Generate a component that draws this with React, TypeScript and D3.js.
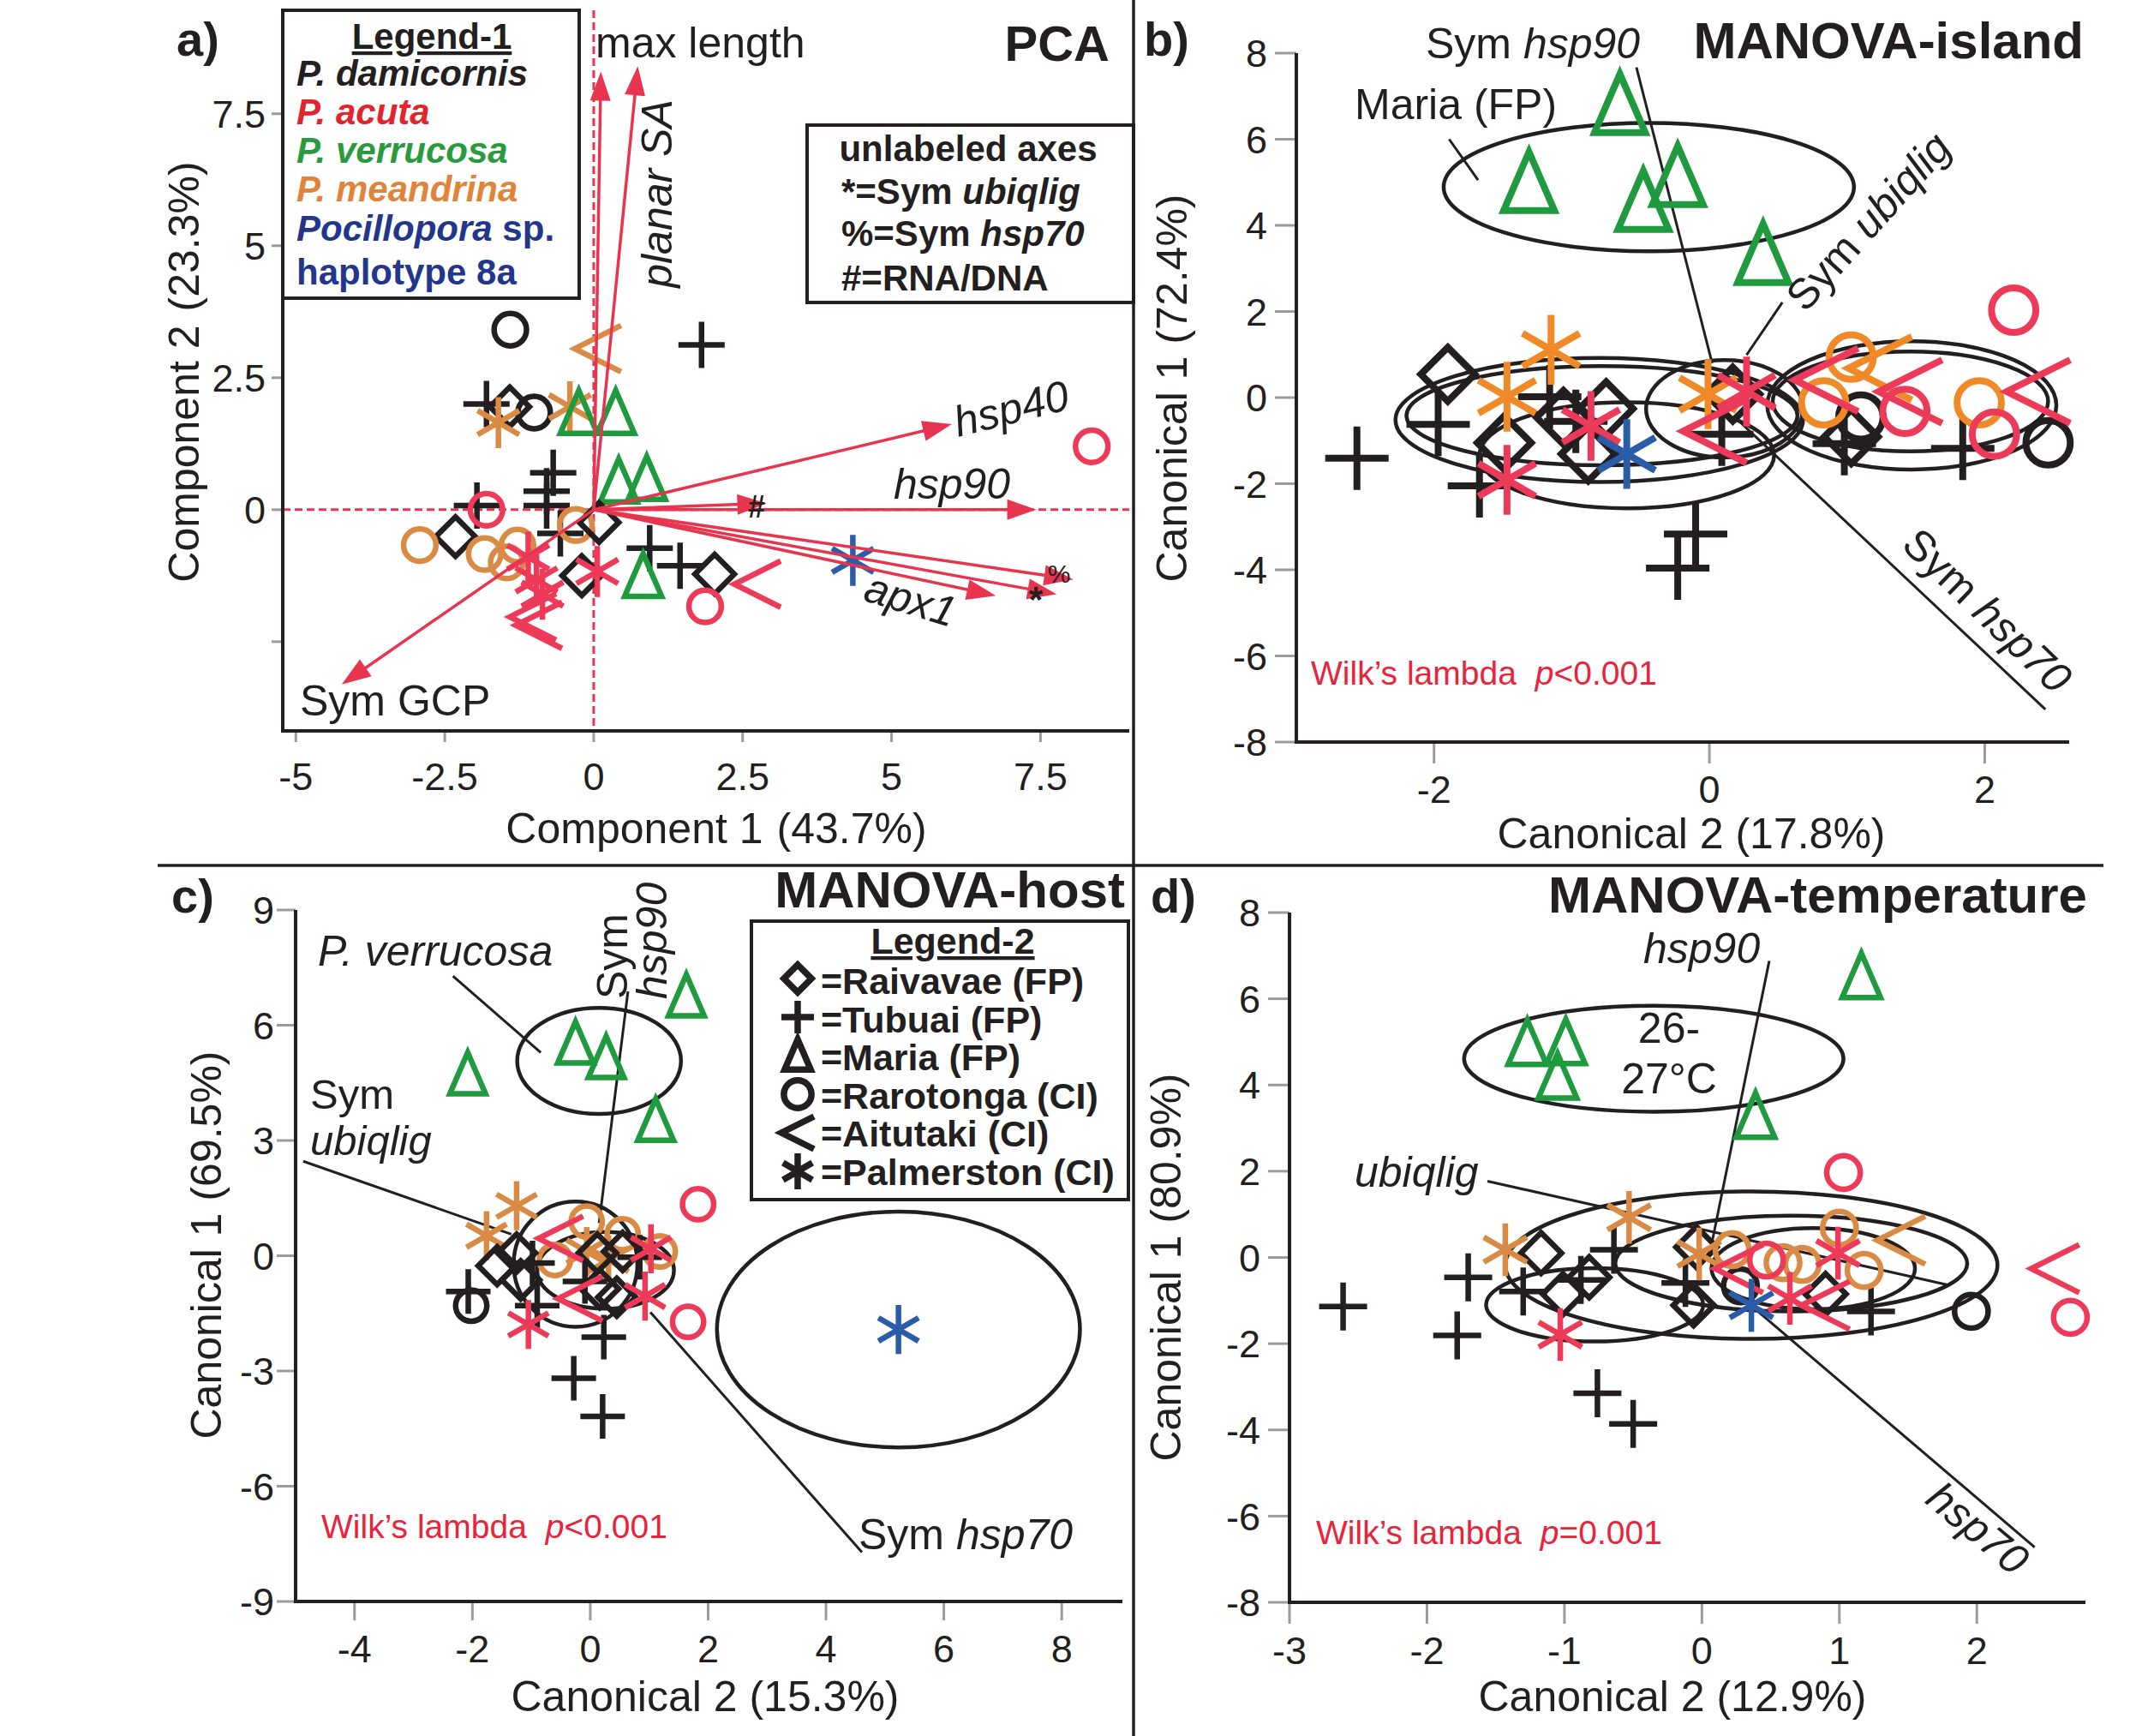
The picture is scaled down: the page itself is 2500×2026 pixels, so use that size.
import React from 'react';
import * as d3 from 'd3';

const FONT = '"Liberation Sans", Arial, Helvetica, sans-serif';
const INK = '#231f20';
const RED_TXT = '#e8243c';
const ARROW = '#e8354f';

const speciesColor: Record<string, string> = {
  dam: '#231f20',
  acu: '#ec3a58',
  ver: '#1f9a3e',
  mea: '#d98b45',
  poc: '#2b5ca8',
};
const islandOrange = '#f08a28';

// [species, island shape, x, y]
type Pt = [string, string, number, number];

// ---- panel a: PCA ----
const pcaXTicks = [-5, -2.5, 0, 2.5, 5, 7.5];
const pcaYTicks = [-2.5, 0, 2.5, 5, 7.5];
const pcaPoints: Pt[] = [
  ['dam', 'circ', -1.4, 3.41], ['dam', 'plus', 1.81, 3.12], ['mea', 'lt', 0.07, 3.05],
  ['dam', 'plus', -1.8, 2.0], ['dam', 'dia', -1.41, 1.95], ['dam', 'circ', -1.0, 1.84],
  ['mea', 'ast', -0.4, 1.95], ['mea', 'ast', -1.6, 1.65],
  ['ver', 'tri', -0.25, 1.82], ['ver', 'tri', 0.37, 1.82], ['ver', 'tri', 0.42, 0.52], ['ver', 'tri', 0.89, 0.57],
  ['dam', 'plus', -0.68, 0.7], ['dam', 'plus', -0.79, 0.35], ['dam', 'plus', -0.79, 0.08], ['dam', 'plus', -0.56, -0.45],
  ['dam', 'plus', -1.96, 0.08], ['acu', 'circ', -1.8, 0.0], ['dam', 'dia', -2.32, -0.51],
  ['mea', 'circ', -2.92, -0.67], ['mea', 'circ', -1.83, -0.84], ['mea', 'circ', -1.46, -1.0],
  ['mea', 'circ', -1.28, -0.68], ['mea', 'circ', -0.3, -0.29],
  ['dam', 'dia', 0.09, -0.24], ['dam', 'dia', -0.2, -1.25],
  ['acu', 'ast', 0.06, -1.17], ['acu', 'ast', -0.96, -1.33], ['acu', 'ast', -0.86, -1.6], ['acu', 'ast', -1.1, -0.9],
  ['acu', 'lt', -1.02, -2.03], ['acu', 'lt', -0.92, -2.19],
  ['dam', 'plus', 0.94, -0.73], ['dam', 'plus', 1.45, -1.06], ['ver', 'tri', 0.83, -1.27],
  ['dam', 'dia', 2.03, -1.22], ['acu', 'circ', 1.87, -1.83], ['acu', 'lt', 2.75, -1.41],
  ['poc', 'ast', 4.35, -0.96], ['acu', 'circ', 8.36, 1.2],
];
// [variable, x tip, y tip]
const pcaArrows: [string, number, number][] = [
  ['max length', 0.12, 8.3], ['planar SA', 0.74, 8.4], ['hsp40', 6.01, 1.62], ['hsp90', 7.43, 0],
  ['RNA/DNA', 2.9, 0.12], ['Sym hsp70', 8.05, -1.32], ['Sym ubiqlig', 7.77, -1.6],
  ['apx1', 6.75, -1.63], ['Sym GCP', -4.23, -3.31],
];

// ---- panel b: MANOVA-island ----
const islandXTicks = [-2, 0, 2];
const islandYTicks = [-8, -6, -4, -2, 0, 2, 4, 6, 8];
const islandPoints: Pt[] = [
  ['ver', 'tri', -0.65, 6.78], ['ver', 'tri', -1.31, 4.97], ['ver', 'tri', -0.48, 4.53], ['ver', 'tri', -0.23, 5.11], ['ver', 'tri', 0.39, 3.3],
  ['dam', 'plus', -2.56, -1.41], ['dam', 'plus', -1.97, -0.62], ['dam', 'plus', -1.67, -2.05], ['dam', 'plus', -1.16, 0.02],
  ['dam', 'plus', -0.97, -0.55], ['dam', 'plus', -0.1, -3.17], ['dam', 'plus', -0.23, -3.96], ['dam', 'plus', 0.09, -0.85],
  ['dam', 'plus', 0.98, -1.07], ['dam', 'plus', 1.84, -1.18],
  ['dam', 'dia', -1.9, 0.54], ['dam', 'dia', -1.49, -1.05], ['dam', 'dia', -1.06, -0.46], ['dam', 'dia', -0.88, -1.31],
  ['dam', 'dia', -0.75, -0.26], ['dam', 'dia', 0.17, 0.08], ['dam', 'dia', 1.03, -0.91],
  ['dam', 'circ', 1.1, -0.45], ['dam', 'circ', 2.46, -1.05],
  ['mea', 'ast', -1.47, 0.02], ['mea', 'ast', -1.15, 1.11], ['mea', 'ast', -0.01, 0.08],
  ['mea', 'circ', 0.83, -0.12], ['mea', 'circ', 1.03, 0.94], ['mea', 'circ', 1.96, -0.12], ['mea', 'lt', 1.24, 0.68],
  ['acu', 'circ', 2.21, 2.03], ['acu', 'circ', 1.42, -0.32], ['acu', 'circ', 2.07, -0.85],
  ['acu', 'lt', 0.04, -0.78], ['acu', 'lt', 0.85, 0.41], ['acu', 'lt', 1.46, 0.14], ['acu', 'lt', 2.39, 0.14],
  ['acu', 'ast', -1.47, -1.91], ['acu', 'ast', -0.86, -0.66], ['acu', 'ast', 0.27, 0.14],
  ['poc', 'ast', -0.6, -1.31],
];
// [cx, cy, rx, ry] in data units
const islandEllipses = [
  [-0.44, 4.89, 1.49, 1.49], [-0.8, -0.52, 1.48, 1.44], [-0.78, -0.42, 1.42, 1.15], [-0.6, -1.34, 1.07, 1.23],
  [0.11, -0.26, 0.57, 1.13], [1.47, -0.18, 1.05, 1.49], [1.46, -0.09, 1.0, 1.16],
];
const islandLines = [
  [-0.53, 7.67, 0.02, 0.8], [0.27, 0.99, 0.53, 2.21], [0.2, -0.5, 2.44, -7.24], [-1.89, 6.0, -1.68, 5.05],
];

// ---- panel c: MANOVA-host ----
const hostXTicks = [-4, -2, 0, 2, 4, 6, 8];
const hostYTicks = [-9, -6, -3, 0, 3, 6, 9];
const hostPoints: Pt[] = [
  ['ver', 'tri', -2.08, 4.71], ['ver', 'tri', -0.25, 5.51], ['ver', 'tri', 0.27, 5.13], ['ver', 'tri', 1.63, 6.74], ['ver', 'tri', 1.11, 3.5],
  ['mea', 'ast', -1.25, 1.3], ['mea', 'ast', -1.76, 0.52], ['mea', 'ast', -0.06, 0.11], ['mea', 'ast', 0.31, -0.11],
  ['mea', 'circ', -0.6, -0.11], ['mea', 'circ', -0.06, 0.89], ['mea', 'circ', 0.55, 0.56], ['mea', 'circ', 1.18, 0.11],
  ['dam', 'plus', -2.07, -0.93], ['dam', 'plus', -0.98, -0.19], ['dam', 'plus', -0.9, -1.3], ['dam', 'plus', -0.09, -0.67],
  ['dam', 'plus', 0.84, -0.04], ['dam', 'plus', 0.23, -2.12], ['dam', 'plus', -0.28, -3.19], ['dam', 'plus', 0.21, -4.18],
  ['dam', 'circ', -2.02, -1.3],
  ['dam', 'dia', -1.58, -0.26], ['dam', 'dia', -1.25, 0.07], ['dam', 'dia', -1.18, -0.63], ['dam', 'dia', 0.12, 0.07],
  ['dam', 'dia', 0.55, 0.11], ['dam', 'dia', 0.45, -1.08], ['dam', 'dia', 0.16, -0.86],
  ['acu', 'ast', -1.05, -1.79], ['acu', 'ast', 1.03, 0.18], ['acu', 'ast', 0.93, -1.05],
  ['acu', 'lt', -0.5, 0.45], ['acu', 'lt', -0.17, -1.12],
  ['acu', 'circ', 1.83, 1.34], ['acu', 'circ', 1.66, -1.72],
  ['poc', 'ast', 5.23, -1.92],
];
const hostEllipses = [
  [0.15, 5.07, 1.39, 1.38], [5.23, -1.92, 3.08, 3.07], [-0.25, -0.22, 1.05, 1.63], [0.26, -0.38, 1.16, 1.0],
];
const hostLines = [
  [-2.33, 7.28, -0.84, 5.29], [0.64, 6.88, 0.15, 0.85], [-4.87, 2.46, -1.34, 0.56], [1.02, -1.47, 4.61, -7.72],
];

// ---- panel d: MANOVA-temperature ----
const tempXTicks = [-3, -2, -1, 0, 1, 2];
const tempYTicks = [-8, -6, -4, -2, 0, 2, 4, 6, 8];
const tempPoints: Pt[] = [
  ['ver', 'tri', -1.27, 4.95], ['ver', 'tri', -0.99, 4.97], ['ver', 'tri', -1.05, 4.17], ['ver', 'tri', 0.39, 3.26], ['ver', 'tri', 1.16, 6.5],
  ['dam', 'plus', -2.61, -1.14], ['dam', 'plus', -1.7, -0.46], ['dam', 'plus', -1.78, -1.81], ['dam', 'plus', -1.3, -0.79],
  ['dam', 'plus', -0.88, -0.52], ['dam', 'plus', -0.64, 0.18], ['dam', 'plus', -0.12, -0.59], ['dam', 'plus', -0.76, -3.15],
  ['dam', 'plus', -0.5, -3.86], ['dam', 'plus', 1.23, -1.25],
  ['dam', 'dia', -1.17, 0.1], ['dam', 'dia', -1.01, -0.85], ['dam', 'dia', -0.82, -0.46], ['dam', 'dia', -0.06, -1.11],
  ['dam', 'dia', -0.04, 0.24], ['dam', 'dia', 0.9, -0.85],
  ['dam', 'circ', 0.28, -0.66], ['dam', 'circ', 1.96, -1.25],
  ['mea', 'ast', -1.43, 0.18], ['mea', 'ast', -0.53, 0.93], ['mea', 'ast', -0.02, 0.08],
  ['mea', 'circ', 0.22, 0.18], ['mea', 'circ', 0.59, -0.12], ['mea', 'circ', 0.73, -0.16], ['mea', 'circ', 1.0, 0.68],
  ['mea', 'circ', 1.18, -0.3], ['mea', 'lt', 1.45, 0.4],
  ['acu', 'ast', -1.03, -1.79], ['acu', 'ast', 0.64, -0.95], ['acu', 'ast', 0.99, 0.1],
  ['acu', 'lt', 0.27, -0.26], ['acu', 'lt', 0.9, -1.11], ['acu', 'lt', 2.57, -0.26],
  ['acu', 'circ', 0.47, -0.06], ['acu', 'circ', 1.03, 1.97], ['acu', 'circ', 2.68, -1.39],
  ['poc', 'ast', 0.36, -1.11],
];
const tempEllipses = [
  [-0.35, 4.61, 1.38, 1.23], [0.36, -0.18, 1.79, 1.71], [-0.78, -1.1, 0.79, 0.85], [0.65, -0.14, 1.28, 1.11], [0.81, -0.26, 0.74, 0.94],
];
const tempLines = [
  [0.49, 6.88, 0.06, 0.14], [-1.56, 1.77, 1.78, -0.63], [0.37, -1.15, 2.42, -6.72],
];

// ---- legends ----
const legend1 = [
  { key: 'dam', label: 'P. damicornis', color: INK },
  { key: 'acu', label: 'P. acuta', color: '#e0252d' },
  { key: 'ver', label: 'P. verrucosa', color: '#2a9a3e' },
  { key: 'mea', label: 'P. meandrina', color: '#e0843a' },
];
const legend2 = [
  ['dia', '=Raivavae (FP)'], ['plus', '=Tubuai (FP)'], ['tri', '=Maria (FP)'],
  ['circ', '=Rarotonga (CI)'], ['lt', '=Aitutaki (CI)'], ['ast', '=Palmerston (CI)'],
];

type Scale = d3.ScaleLinear<number, number>;

function Marker({ shape, x, y, r, color, sw, round = 0.7 }: {
  shape: string; x: number; y: number; r: number; color: string; sw: number; round?: number;
}) {
  const p = { fill: 'none', stroke: color, strokeWidth: sw, strokeLinejoin: 'miter' as const, strokeMiterlimit: 6 };
  if (shape === 'plus') return <path d={`M${x - r},${y}H${x + r}M${x},${y - r}V${y + r}`} {...p} />;
  if (shape === 'circ') return <circle cx={x} cy={y} r={r * round} {...p} />;
  if (shape === 'dia') {
    const d = r * 0.85;
    return <path d={`M${x},${y - d}L${x + d},${y}L${x},${y + d}L${x - d},${y}Z`} {...p} />;
  }
  if (shape === 'tri')
    return <path d={`M${x},${y - r}L${x + 0.8 * r},${y + 0.85 * r}L${x - 0.8 * r},${y + 0.85 * r}Z`} {...p} />;
  if (shape === 'lt') return <path d={`M${x + r},${y - r}L${x - r},${y}L${x + r},${y + r}`} {...p} />;
  const a = r * 0.9, b = r * 0.52, v = r * 1.1;
  return <path d={`M${x},${y - v}V${y + v}M${x - a},${y - b}L${x + a},${y + b}M${x - a},${y + b}L${x + a},${y - b}`} {...p} />;
}

function Axes({ x, y, xTicks, yTicks, yLabelX, xLabelY, tick, skip = [] }: {
  x: Scale; y: Scale; xTicks: number[]; yTicks: number[]; yLabelX: number; xLabelY: number; tick: number; skip?: number[];
}) {
  const [x0, x1] = x.range();
  const [y0, y1] = y.range();
  return (
    <g>
      {yTicks.map((v) => (
        <g key={'y' + v}>
          <line x1={x0 - tick} x2={x0} y1={y(v)} y2={y(v)} stroke="#9b9b9b" strokeWidth={3} />
          {!skip.includes(v) && (
            <text x={yLabelX} y={y(v)} dy="0.36em" textAnchor="end" fontSize={45}>{v}</text>
          )}
        </g>
      ))}
      {xTicks.map((v) => (
        <g key={'x' + v}>
          <line x1={x(v)} x2={x(v)} y1={y0} y2={y0 + tick} stroke="#9b9b9b" strokeWidth={3} />
          <text x={x(v)} y={xLabelY} textAnchor="middle" fontSize={45}>{v}</text>
        </g>
      ))}
      <line x1={x0} x2={x0} y1={y1} y2={y0} stroke={INK} strokeWidth={4} />
      <line x1={x0 - 2} x2={x1} y1={y0} y2={y0} stroke={INK} strokeWidth={4} />
    </g>
  );
}

function Points({ pts, x, y, r, sw, orange }: { pts: Pt[]; x: Scale; y: Scale; r: number; sw: number; orange?: string }) {
  return (
    <g>
      {pts.map(([sp, shape, vx, vy], i) => (
        <Marker key={i} shape={shape} x={x(vx)} y={y(vy)} r={r} sw={sw}
          color={sp === 'mea' && orange ? orange : speciesColor[sp]} />
      ))}
    </g>
  );
}

function Ellipses({ list, x, y }: { list: number[][]; x: Scale; y: Scale }) {
  return (
    <g>
      {list.map(([cx, cy, rx, ry], i) => (
        <ellipse key={i} cx={x(cx)} cy={y(cy)} rx={x(cx + rx) - x(cx)} ry={y(cy - ry) - y(cy)}
          fill="none" stroke={INK} strokeWidth={4.5} />
      ))}
    </g>
  );
}

function Lines({ list, x, y }: { list: number[][]; x: Scale; y: Scale }) {
  return (
    <g>
      {list.map(([a, b, c, d], i) => (
        <line key={i} x1={x(a)} y1={y(b)} x2={x(c)} y2={y(d)} stroke={INK} strokeWidth={3} />
      ))}
    </g>
  );
}

function Arrow({ x1, y1, x2, y2 }: { x1: number; y1: number; x2: number; y2: number }) {
  const ang = Math.atan2(y2 - y1, x2 - x1);
  const L = 34, W = 12;
  const ux = Math.cos(ang), uy = Math.sin(ang);
  const bx = x2 - L * ux, by = y2 - L * uy;
  return (
    <g>
      <line x1={x1} y1={y1} x2={x2 - L * 0.7 * ux} y2={y2 - L * 0.7 * uy} stroke={ARROW} strokeWidth={3.5} />
      <path d={`M${x2},${y2}L${bx - W * uy},${by + W * ux}L${bx + W * uy},${by - W * ux}Z`} fill={ARROW} />
    </g>
  );
}

function Wilks({ x, y, rel }: { x: number; y: number; rel: string }) {
  return (
    <text x={x} y={y} fontSize={39} fill={RED_TXT}>
      Wilk’s lambda<tspan dx={22} fontStyle="italic">p</tspan>{rel}0.001
    </text>
  );
}

const App: React.FC = () => {
  const xA = d3.scaleLinear().domain([-5.22, 8.99]).range([330, 1318]);
  const yA = d3.scaleLinear().domain([-4.19, 9.46]).range([853, 12]);
  const xB = d3.scaleLinear().domain([-3.0, 2.613]).range([1513, 2415]);
  const yB = d3.scaleLinear().domain([-8, 8]).range([866, 62]);
  const xC = d3.scaleLinear().domain([-5.0, 9.03]).range([345, 1310]);
  const yC = d3.scaleLinear().domain([-9, 9]).range([1869, 1062]);
  const xD = d3.scaleLinear().domain([-3, 2.79]).range([1505, 2434]);
  const yD = d3.scaleLinear().domain([-8, 8]).range([1870, 1065]);

  return (
    <svg width={2500} height={2026} viewBox="0 0 2500 2026"
      style={{ position: 'absolute', left: 0, top: 0, background: '#fff' }}
      fontFamily={FONT} fill={INK}>
      <rect width={2500} height={2026} fill="#fff" />

      {/* dividers */}
      <line x1={1323} x2={1323} y1={0} y2={2026} stroke={INK} strokeWidth={3.5} />
      <line x1={184} x2={2455} y1={1010} y2={1010} stroke={INK} strokeWidth={3.5} />

      {/* ================= a) PCA ================= */}
      <g>
        <line x1={xA(0)} x2={xA(0)} y1={12} y2={853} stroke={ARROW} strokeWidth={3} strokeDasharray="9 5" />
        <line x1={330} x2={1318} y1={yA(0)} y2={yA(0)} stroke={ARROW} strokeWidth={3} strokeDasharray="9 5" />
        <Axes x={xA} y={yA} xTicks={pcaXTicks} yTicks={pcaYTicks} yLabelX={310} xLabelY={922} tick={13} skip={[-2.5]} />
        <Points pts={pcaPoints} x={xA} y={yA} r={27} sw={6.5} />
        {pcaArrows.map(([name, vx, vy]) => (
          <Arrow key={name} x1={xA(0)} y1={yA(0)} x2={xA(vx)} y2={yA(vy)} />
        ))}
        <text x={206} y={65} fontSize={56} fontWeight="bold">a)</text>
        <text x={1295} y={71} fontSize={58} fontWeight="bold" textAnchor="end">PCA</text>
        <text x={695} y={67} fontSize={50}>max length</text>
        <text transform="translate(766,226) rotate(-90)" dy="0.36em" fontSize={50} fontStyle="italic" textAnchor="middle">planar SA</text>
        <text transform="translate(1180,476) rotate(-14)" dy="0.36em" fontSize={50} fontStyle="italic" textAnchor="middle">hsp40</text>
        <text x={1111} y={582} fontSize={50} fontStyle="italic" textAnchor="middle">hsp90</text>
        <text transform="translate(1063,699) rotate(17)" dy="0.36em" fontSize={50} fontStyle="italic" textAnchor="middle">apx1</text>
        <text x={350} y={835} fontSize={50}>Sym GCP</text>
        <text x={883} y={604} fontSize={36} fontWeight="bold" textAnchor="middle">#</text>
        <text x={1236} y={680} fontSize={30} textAnchor="middle">%</text>
        <text x={1209} y={714} fontSize={42} fontWeight="bold" textAnchor="middle">*</text>
        <text x={836} y={984} fontSize={50} textAnchor="middle">Component 1<tspan dx={16}>(43.7%)</tspan></text>
        <text transform="translate(232,434) rotate(-90)" fontSize={50} textAnchor="middle">Component 2<tspan dx={16}>(23.3%)</tspan></text>

        {/* Legend-1 */}
        <rect x={330} y={12} width={346} height={336} fill="#fff" stroke={INK} strokeWidth={4} />
        <text x={504} y={57} fontSize={42} fontWeight="bold" textAnchor="middle" textDecoration="underline">Legend-1</text>
        {legend1.map((d, i) => (
          <text key={d.key} x={346} y={100 + i * 45} fontSize={42} fontWeight="bold" fontStyle="italic" fill={d.color}>{d.label}</text>
        ))}
        <text x={346} y={281} fontSize={42} fontWeight="bold" fill="#22368c">
          <tspan fontStyle="italic">Pocillopora</tspan> sp.
        </text>
        <text x={346} y={332} fontSize={42} fontWeight="bold" fill="#22368c">haplotype 8a</text>

        {/* unlabeled axes box */}
        <rect x={942} y={146} width={381} height={207} fill="#fff" stroke={INK} strokeWidth={4} />
        <text x={1130} y={188} fontSize={42} fontWeight="bold" textAnchor="middle">unlabeled axes</text>
        <text x={982} y={238} fontSize={42} fontWeight="bold">*=Sym <tspan fontStyle="italic">ubiqlig</tspan></text>
        <text x={982} y={287} fontSize={42} fontWeight="bold">%=Sym <tspan fontStyle="italic">hsp70</tspan></text>
        <text x={982} y={339} fontSize={42} fontWeight="bold">#=RNA/DNA</text>
      </g>

      {/* ================= b) MANOVA-island ================= */}
      <g>
        <Axes x={xB} y={yB} xTicks={islandXTicks} yTicks={islandYTicks} yLabelX={1479} xLabelY={937} tick={25} />
        <Ellipses list={islandEllipses} x={xB} y={yB} />
        <Lines list={islandLines} x={xB} y={yB} />
        <Points pts={islandPoints} x={xB} y={yB} r={37} sw={8} orange={islandOrange} />
        <text x={1335} y={65} fontSize={56} fontWeight="bold">b)</text>
        <text x={2432} y={68} fontSize={60} fontWeight="bold" textAnchor="end">MANOVA-island</text>
        <text x={1664} y={68} fontSize={50}>Sym <tspan fontStyle="italic">hsp90</tspan></text>
        <text x={1581} y={139} fontSize={50}>Maria (FP)</text>
        <text transform="translate(2180,258) rotate(-48)" dy="0.36em" fontSize={50} textAnchor="middle">Sym <tspan fontStyle="italic">ubiqlig</tspan></text>
        <text transform="translate(2320,712) rotate(44)" dy="0.36em" fontSize={50} textAnchor="middle">Sym <tspan fontStyle="italic">hsp70</tspan></text>
        <Wilks x={1530} y={799} rel="<" />
        <text x={1974} y={990} fontSize={50} textAnchor="middle">Canonical 2 (17.8%)</text>
        <text transform="translate(1385,453) rotate(-90)" fontSize={50} textAnchor="middle">Canonical 1 (72.4%)</text>
      </g>

      {/* ================= c) MANOVA-host ================= */}
      <g>
        <Axes x={xC} y={yC} xTicks={hostXTicks} yTicks={hostYTicks} yLabelX={320} xLabelY={1940} tick={22} />
        <Ellipses list={hostEllipses} x={xC} y={yC} />
        <Lines list={hostLines} x={xC} y={yC} />
        <Points pts={hostPoints} x={xC} y={yC} r={26} sw={6.5} />
        <text x={200} y={1065} fontSize={56} fontWeight="bold">c)</text>
        <text x={1313} y={1059} fontSize={60} fontWeight="bold" textAnchor="end">MANOVA-host</text>
        <text x={371} y={1127} fontSize={50} fontStyle="italic">P. verrucosa</text>
        <text x={362} y={1294} fontSize={49}>Sym</text>
        <text x={362} y={1348} fontSize={49} fontStyle="italic">ubiqlig</text>
        <text transform="translate(732,1166) rotate(-90)" fontSize={50}>Sym</text>
        <text transform="translate(778,1166) rotate(-90)" fontSize={50} fontStyle="italic">hsp90</text>
        <text x={1002} y={1808} fontSize={50}>Sym <tspan fontStyle="italic">hsp70</tspan></text>
        <Wilks x={375} y={1795} rel="<" />
        <text x={823} y={1997} fontSize={50} textAnchor="middle">Canonical 2 (15.3%)</text>
        <text transform="translate(258,1453) rotate(-90)" fontSize={50} textAnchor="middle">Canonical 1 (69.5%)</text>

        {/* Legend-2 */}
        <rect x={877} y={1075} width={440} height={325} fill="#fff" stroke={INK} strokeWidth={4} />
        <text x={1112} y={1113} fontSize={43} fontWeight="bold" textAnchor="middle" textDecoration="underline">Legend-2</text>
        {legend2.map(([shape, label], i) => (
          <g key={shape}>
            <Marker shape={shape} x={931} y={1142 + i * 45} r={19} sw={7.5} color={INK} round={0.85} />
            <text x={958} y={1160 + i * 44.6} fontSize={43} fontWeight="bold">{label}</text>
          </g>
        ))}
      </g>

      {/* ================= d) MANOVA-temperature ================= */}
      <g>
        <Axes x={xD} y={yD} xTicks={tempXTicks} yTicks={tempYTicks} yLabelX={1471} xLabelY={1942} tick={25} />
        <Ellipses list={tempEllipses} x={xD} y={yD} />
        <Lines list={tempLines} x={xD} y={yD} />
        <Points pts={tempPoints} x={xD} y={yD} r={28} sw={6.5} />
        <text x={1343} y={1065} fontSize={56} fontWeight="bold">d)</text>
        <text x={2436} y={1065} fontSize={60} fontWeight="bold" textAnchor="end">MANOVA-temperature</text>
        <text x={1918} y={1124} fontSize={50} fontStyle="italic">hsp90</text>
        <text x={1948} y={1217} fontSize={50} textAnchor="middle">26-</text>
        <text x={1948} y={1276} fontSize={50} textAnchor="middle">27°C</text>
        <text x={1581} y={1385} fontSize={50} fontStyle="italic">ubiqlig</text>
        <text transform="translate(2309,1783) rotate(40)" dy="0.36em" fontSize={50} fontStyle="italic" textAnchor="middle">hsp70</text>
        <Wilks x={1536} y={1802} rel="=" />
        <text x={1952} y={1997} fontSize={50} textAnchor="middle">Canonical 2 (12.9%)</text>
        <text transform="translate(1378,1479) rotate(-90)" fontSize={50} textAnchor="middle">Canonical 1 (80.9%)</text>
      </g>
    </svg>
  );
};

export default App;
